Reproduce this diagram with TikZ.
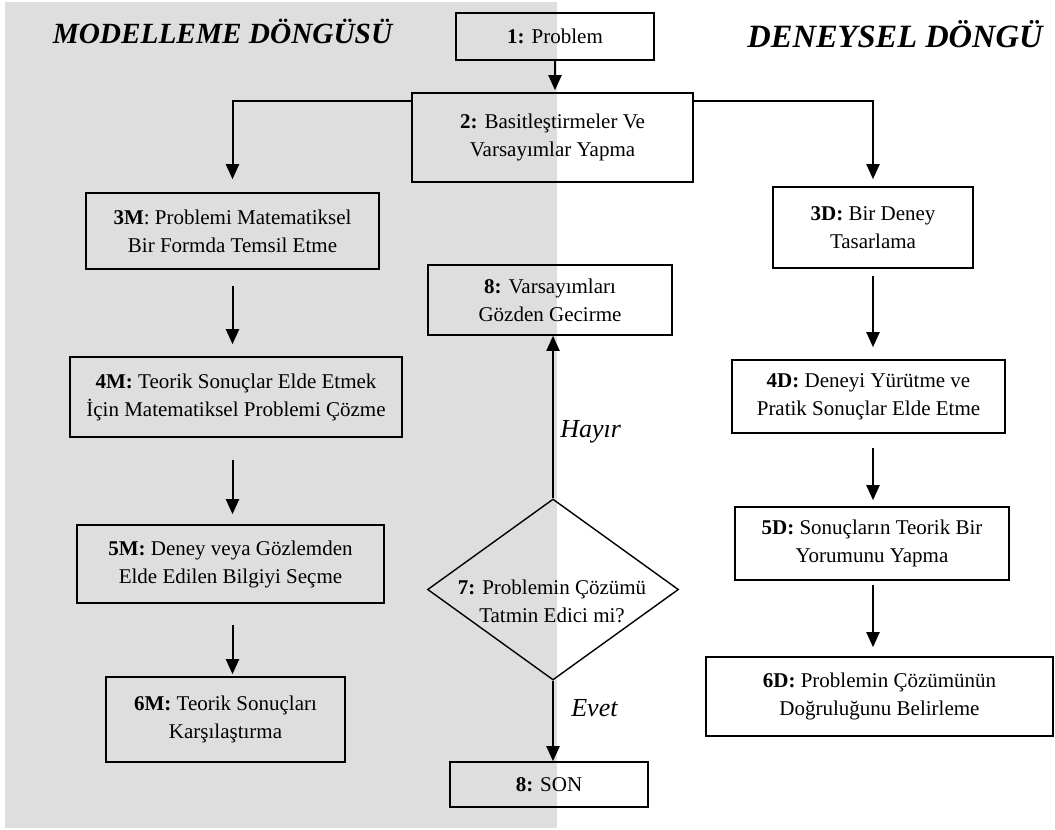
\documentclass[tikz,border=0pt]{standalone}
\usepackage{fontspec}
\setmainfont{Liberation Serif}
\usetikzlibrary{arrows.meta,shapes.geometric,calc}
\definecolor{panelgray}{RGB}{222,222,222}

\begin{document}
\begin{tikzpicture}[x=1pt,y=-1pt,
  box/.style={draw, line width=1.6pt, inner sep=0pt, align=center,
              font=\fontsize{21}{28}\selectfont},
  arr/.style={line width=2pt, -{Triangle[length=15pt,width=13pt]}},
  title/.style={anchor=base, inner sep=0pt, font=\bfseries\itshape},
  answer/.style={font=\fontsize{26}{30}\selectfont\itshape, anchor=west}]

\useasboundingbox (0,0) rectangle (1055,830);

% shaded panel of the modelling cycle
\fill[panelgray] (5,2) rectangle (557,828);

% titles
\node[title, font=\fontsize{29.3}{34}\selectfont\bfseries\itshape] (tm) at (222.5,43) {MODELLEME DÖNGÜSÜ};
\node[title, font=\fontsize{32.5}{38}\selectfont\bfseries\itshape] (td) at (895,47) {DENEYSEL DÖNGÜ};

% common steps
\node[box, minimum width=198pt, minimum height=47pt] (b1) at (555,36.5) {\textbf{1:} Problem};
\node[box, minimum width=281pt, minimum height=89pt] (b2) at (552.5,137.5)
  {\textbf{2:} Basitleştirmeler Ve\\Varsayımlar Yapma};

% modelling cycle
\node[box, minimum width=293pt, minimum height=76pt] (b3m) at (232.5,231)
  {\textbf{3M}: Problemi Matematiksel\\Bir Formda Temsil Etme};
\node[box, minimum width=332pt, minimum height=80pt] (b4m) at (236,397)
  {\textbf{4M:} Teorik Sonuçlar Elde Etmek\\İçin Matematiksel Problemi Çözme};
\node[box, minimum width=307pt, minimum height=78pt] (b5m) at (230.5,564)
  {\textbf{5M:} Deney veya Gözlemden\\Elde Edilen Bilgiyi Seçme};
\node[box, minimum width=239pt, minimum height=85pt] (b6m) at (225.5,719.5)
  {\textbf{6M:} Teorik Sonuçları\\Karşılaştırma};

% experimental cycle
\node[box, minimum width=200pt, minimum height=81pt] (b3d) at (873,227.5)
  {\textbf{3D:} Bir Deney\\Tasarlama};
\node[box, minimum width=273pt, minimum height=73pt] (b4d) at (868.5,396.5)
  {\textbf{4D:} Deneyi Yürütme ve\\Pratik Sonuçlar Elde Etme};
\node[box, minimum width=274pt, minimum height=73pt] (b5d) at (872,543.5)
  {\textbf{5D:} Sonuçların Teorik Bir\\Yorumunu Yapma};
\node[box, minimum width=347pt, minimum height=79pt] (b6d) at (879.5,696.5)
  {\textbf{6D:} Problemin Çözümünün\\Doğruluğunu Belirleme};

% decision and its outcomes
\node[box, minimum width=244pt, minimum height=70pt] (b8) at (550,300)
  {\textbf{8:} Varsayımları\\Gözden Gecirme};
\node[draw, shape=diamond, line width=1.4pt, inner sep=0pt,
      minimum width=251pt, minimum height=181pt] (d7) at (553,589.5) {};
\node[align=center, inner sep=0pt, font=\fontsize{21}{28}\selectfont] (t7) at (552,601)
  {\textbf{7:} Problemin Çözümü\\Tatmin Edici mi?};
\node[box, minimum width=198pt, minimum height=45pt] (son) at (549,784.5) {\textbf{8:} SON};

% connectors
\draw[arr, shorten >=2pt] (b1.south) -- (b1.south |- b2.north);
\draw[arr, shorten >=13pt] ($(b2.north west)+(0,9)$) -| (b3m.north);
\draw[arr, shorten >=7pt] ($(b2.north east)+(0,9)$) -| (b3d.north);

\draw[arr, shorten <=16pt, shorten >=12pt] (b3m.south) -- (b3m.south |- b4m.north);
\draw[arr, shorten <=22pt, shorten >=10pt] (b4m.south -| b3m.south) -- (b3m.south |- b5m.north);
\draw[arr, shorten <=21pt, shorten >=2pt] (b5m.south -| b3m.south) -- (b3m.south |- b6m.north);

\draw[arr, shorten <=7pt, shorten >=12pt] (b3d.south) -- (b3d.south |- b4d.north);
\draw[arr, shorten <=14pt, shorten >=6pt] (b4d.south -| b3d.south) -- (b3d.south |- b5d.north);
\draw[arr, shorten <=4pt, shorten >=9pt] (b5d.south -| b3d.south) -- (b3d.south |- b6d.north);

\draw[arr] (d7.north) -- node[answer, pos=0.41, xshift=3pt] (no) {Hayır} (d7.north |- b8.south);
\draw[arr] (d7.south) -- node[answer, pos=0.34, xshift=14pt] (yes) {Evet} (d7.south |- son.north);

\end{tikzpicture}
\end{document}
